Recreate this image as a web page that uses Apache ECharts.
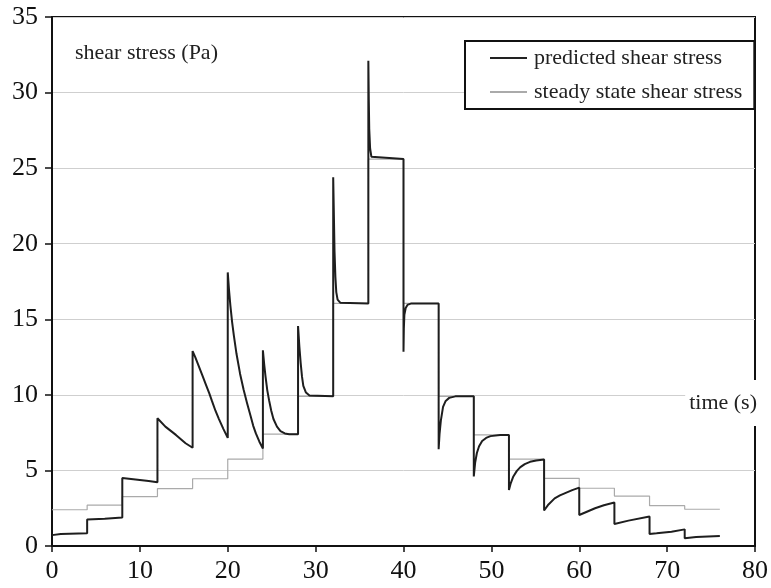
<!DOCTYPE html>
<html>
<head>
<meta charset="utf-8">
<script src="https://cdn.jsdelivr.net/npm/echarts@6/dist/echarts.min.js"></script>
<style>
  html, body { margin: 0; padding: 0; background: #fff; }
  #chart { width: 771px; height: 588px; }
</style>
</head>
<body>
<div id="chart"></div>
<script>
// Step start times (s) of the imposed shear-rate programme and the
// steady-state shear stress (Pa) held over each 4 s step.
const stepTimes = [0, 4, 8, 12, 16, 20, 24, 28, 32, 36, 40, 44, 48, 52, 56, 60, 64, 68, 72, 76];
const steadyStress = [2.4, 2.7, 3.27, 3.8, 4.45, 5.75, 7.4, 9.9, 16.05, 25.6,
                      16.05, 9.9, 7.35, 5.75, 4.48, 3.82, 3.3, 2.67, 2.43, 2.43];

// Predicted (transient) shear stress response: [time (s), stress (Pa)].
const predicted = [
  [0, 0.72], [1, 0.8], [4, 0.84],
  [4, 1.75], [6, 1.8], [8, 1.88],
  [8, 4.5], [9.5, 4.4], [11, 4.3], [12, 4.22],
  [12, 8.45], [12.9, 7.9], [14.1, 7.35], [15.2, 6.8], [16, 6.5],
  [16, 12.9], [16.3, 12.5], [16.7, 11.9], [17.1, 11.3], [17.5, 10.7], [17.9, 10.1],
  [18.2, 9.6], [18.6, 8.95], [19, 8.4], [19.5, 7.75], [20, 7.15],
  [20, 18.1], [20.15, 16.9], [20.3, 15.9], [20.5, 14.8], [20.7, 13.9], [21, 12.7],
  [21.4, 11.4], [21.8, 10.35], [22.2, 9.45], [22.6, 8.6], [22.9, 7.95], [23.2, 7.45],
  [23.6, 6.9], [24, 6.45],
  [24, 12.95], [24.15, 12.0], [24.3, 11.2], [24.5, 10.3], [24.7, 9.65], [24.95, 8.95],
  [25.2, 8.4], [25.6, 7.9], [26, 7.6], [26.5, 7.45], [27, 7.4], [28, 7.4],
  [28, 14.55], [28.15, 13.2], [28.3, 12.1], [28.45, 11.2], [28.6, 10.6], [28.9, 10.15],
  [29.3, 9.95], [32, 9.9],
  [32, 24.4], [32.08, 21.8], [32.15, 19.5], [32.25, 17.8], [32.35, 16.8], [32.5, 16.3],
  [32.8, 16.1], [36, 16.05],
  [36, 32.1], [36.05, 29.5], [36.1, 27.6], [36.2, 26.3], [36.35, 25.75], [40, 25.6],
  [40, 12.85], [40.04, 14.4], [40.1, 15.3], [40.25, 15.75], [40.45, 15.95], [40.9, 16.05], [44, 16.05],
  [44, 6.4], [44.1, 7.4], [44.25, 8.3], [44.5, 9.2], [44.8, 9.6], [45.2, 9.8], [45.9, 9.9], [48, 9.9],
  [48, 4.6], [48.15, 5.5], [48.35, 6.15], [48.6, 6.6], [48.95, 6.95], [49.4, 7.15],
  [49.9, 7.27], [51, 7.35], [52, 7.35],
  [52, 3.7], [52.2, 4.15], [52.5, 4.6], [52.9, 4.97], [53.3, 5.22], [53.8, 5.42],
  [54.4, 5.57], [55.1, 5.66], [56, 5.72],
  [56, 2.35], [56.5, 2.75], [57.2, 3.15], [57.8, 3.35], [58.4, 3.5], [59.2, 3.7], [60, 3.86],
  [60, 2.05], [60.6, 2.2], [61.8, 2.5], [62.8, 2.7], [64, 2.88],
  [64, 1.46], [65.6, 1.68], [68, 1.95],
  [68, 0.79], [68.8, 0.84], [70.5, 0.95], [72, 1.1],
  [72, 0.51], [73.3, 0.6], [76, 0.66]
];

// Axis ranges and labels
const xTicks = { min: 0, max: 80, interval: 10 };
const yTicks = { min: 0, max: 35, interval: 5 };
const seriesNames = ['predicted shear stress', 'steady state shear stress'];
const yTitle = 'shear stress (Pa)';
const xTitle = 'time (s)';

const serif = '"Liberation Serif", "Times New Roman", serif';
const steadyData = stepTimes.map((t, i) => [t, steadyStress[i]]);

const chart = echarts.init(document.getElementById('chart'), null, { renderer: 'canvas' });
chart.setOption({
  backgroundColor: '#fff',
  animation: false,
  grid: {
    left: 52, right: 14, top: 17, bottom: 42,
    show: true, borderColor: '#111', borderWidth: 2, backgroundColor: 'transparent'
  },
  xAxis: {
    type: 'value', min: xTicks.min, max: xTicks.max, interval: xTicks.interval,
    axisLine: { show: true, lineStyle: { color: '#111', width: 2 } },
    axisTick: { show: true, length: 6, lineStyle: { color: '#111', width: 1.5 } },
    axisLabel: { color: '#111', fontFamily: serif, fontSize: 26, margin: 12 },
    splitLine: { show: false }
  },
  yAxis: {
    type: 'value', min: yTicks.min, max: yTicks.max, interval: yTicks.interval,
    axisLine: { show: true, lineStyle: { color: '#111', width: 2 } },
    axisTick: { show: true, length: 7, lineStyle: { color: '#111', width: 1.5 } },
    axisLabel: { color: '#111', fontFamily: serif, fontSize: 26, margin: 14 },
    splitLine: { show: true, lineStyle: { color: '#cfcfcf', width: 1 } }
  },
  legend: {
    orient: 'vertical',
    left: 465, top: 41,
    padding: [6, 12, 6, 25],
    backgroundColor: '#fff',
    borderColor: '#111', borderWidth: 2,
    itemWidth: 37, itemHeight: 2, itemGap: 12,
    textStyle: { fontFamily: serif, fontSize: 22, color: '#222', lineHeight: 22, padding: [0, 0, 0, 2] },
    data: [
      { name: seriesNames[0], icon: 'rect', itemStyle: { color: '#222' } },
      { name: seriesNames[1], icon: 'rect', itemStyle: { color: '#aaa' } }
    ]
  },
  graphic: [
    {
      type: 'text', left: 75, top: 42, z: 10,
      style: { text: yTitle, font: '22px ' + serif, fill: '#222' }
    },
    {
      type: 'text', right: 12, top: 380, z: 10,
      style: {
        text: xTitle, font: '22px ' + serif, fill: '#222',
        backgroundColor: '#fff', padding: [12, 2, 12, 4]
      }
    }
  ],
  series: [
    {
      name: seriesNames[1], type: 'line', step: 'end', data: steadyData,
      symbol: 'none', lineStyle: { color: '#aaa', width: 1.2 }, itemStyle: { color: '#aaa' }, z: 2
    },
    {
      name: seriesNames[0], type: 'line', data: predicted,
      symbol: 'none', lineStyle: { color: '#1e1e1e', width: 2 }, itemStyle: { color: '#1e1e1e' }, z: 3
    }
  ]
});
</script>
</body>
</html>
